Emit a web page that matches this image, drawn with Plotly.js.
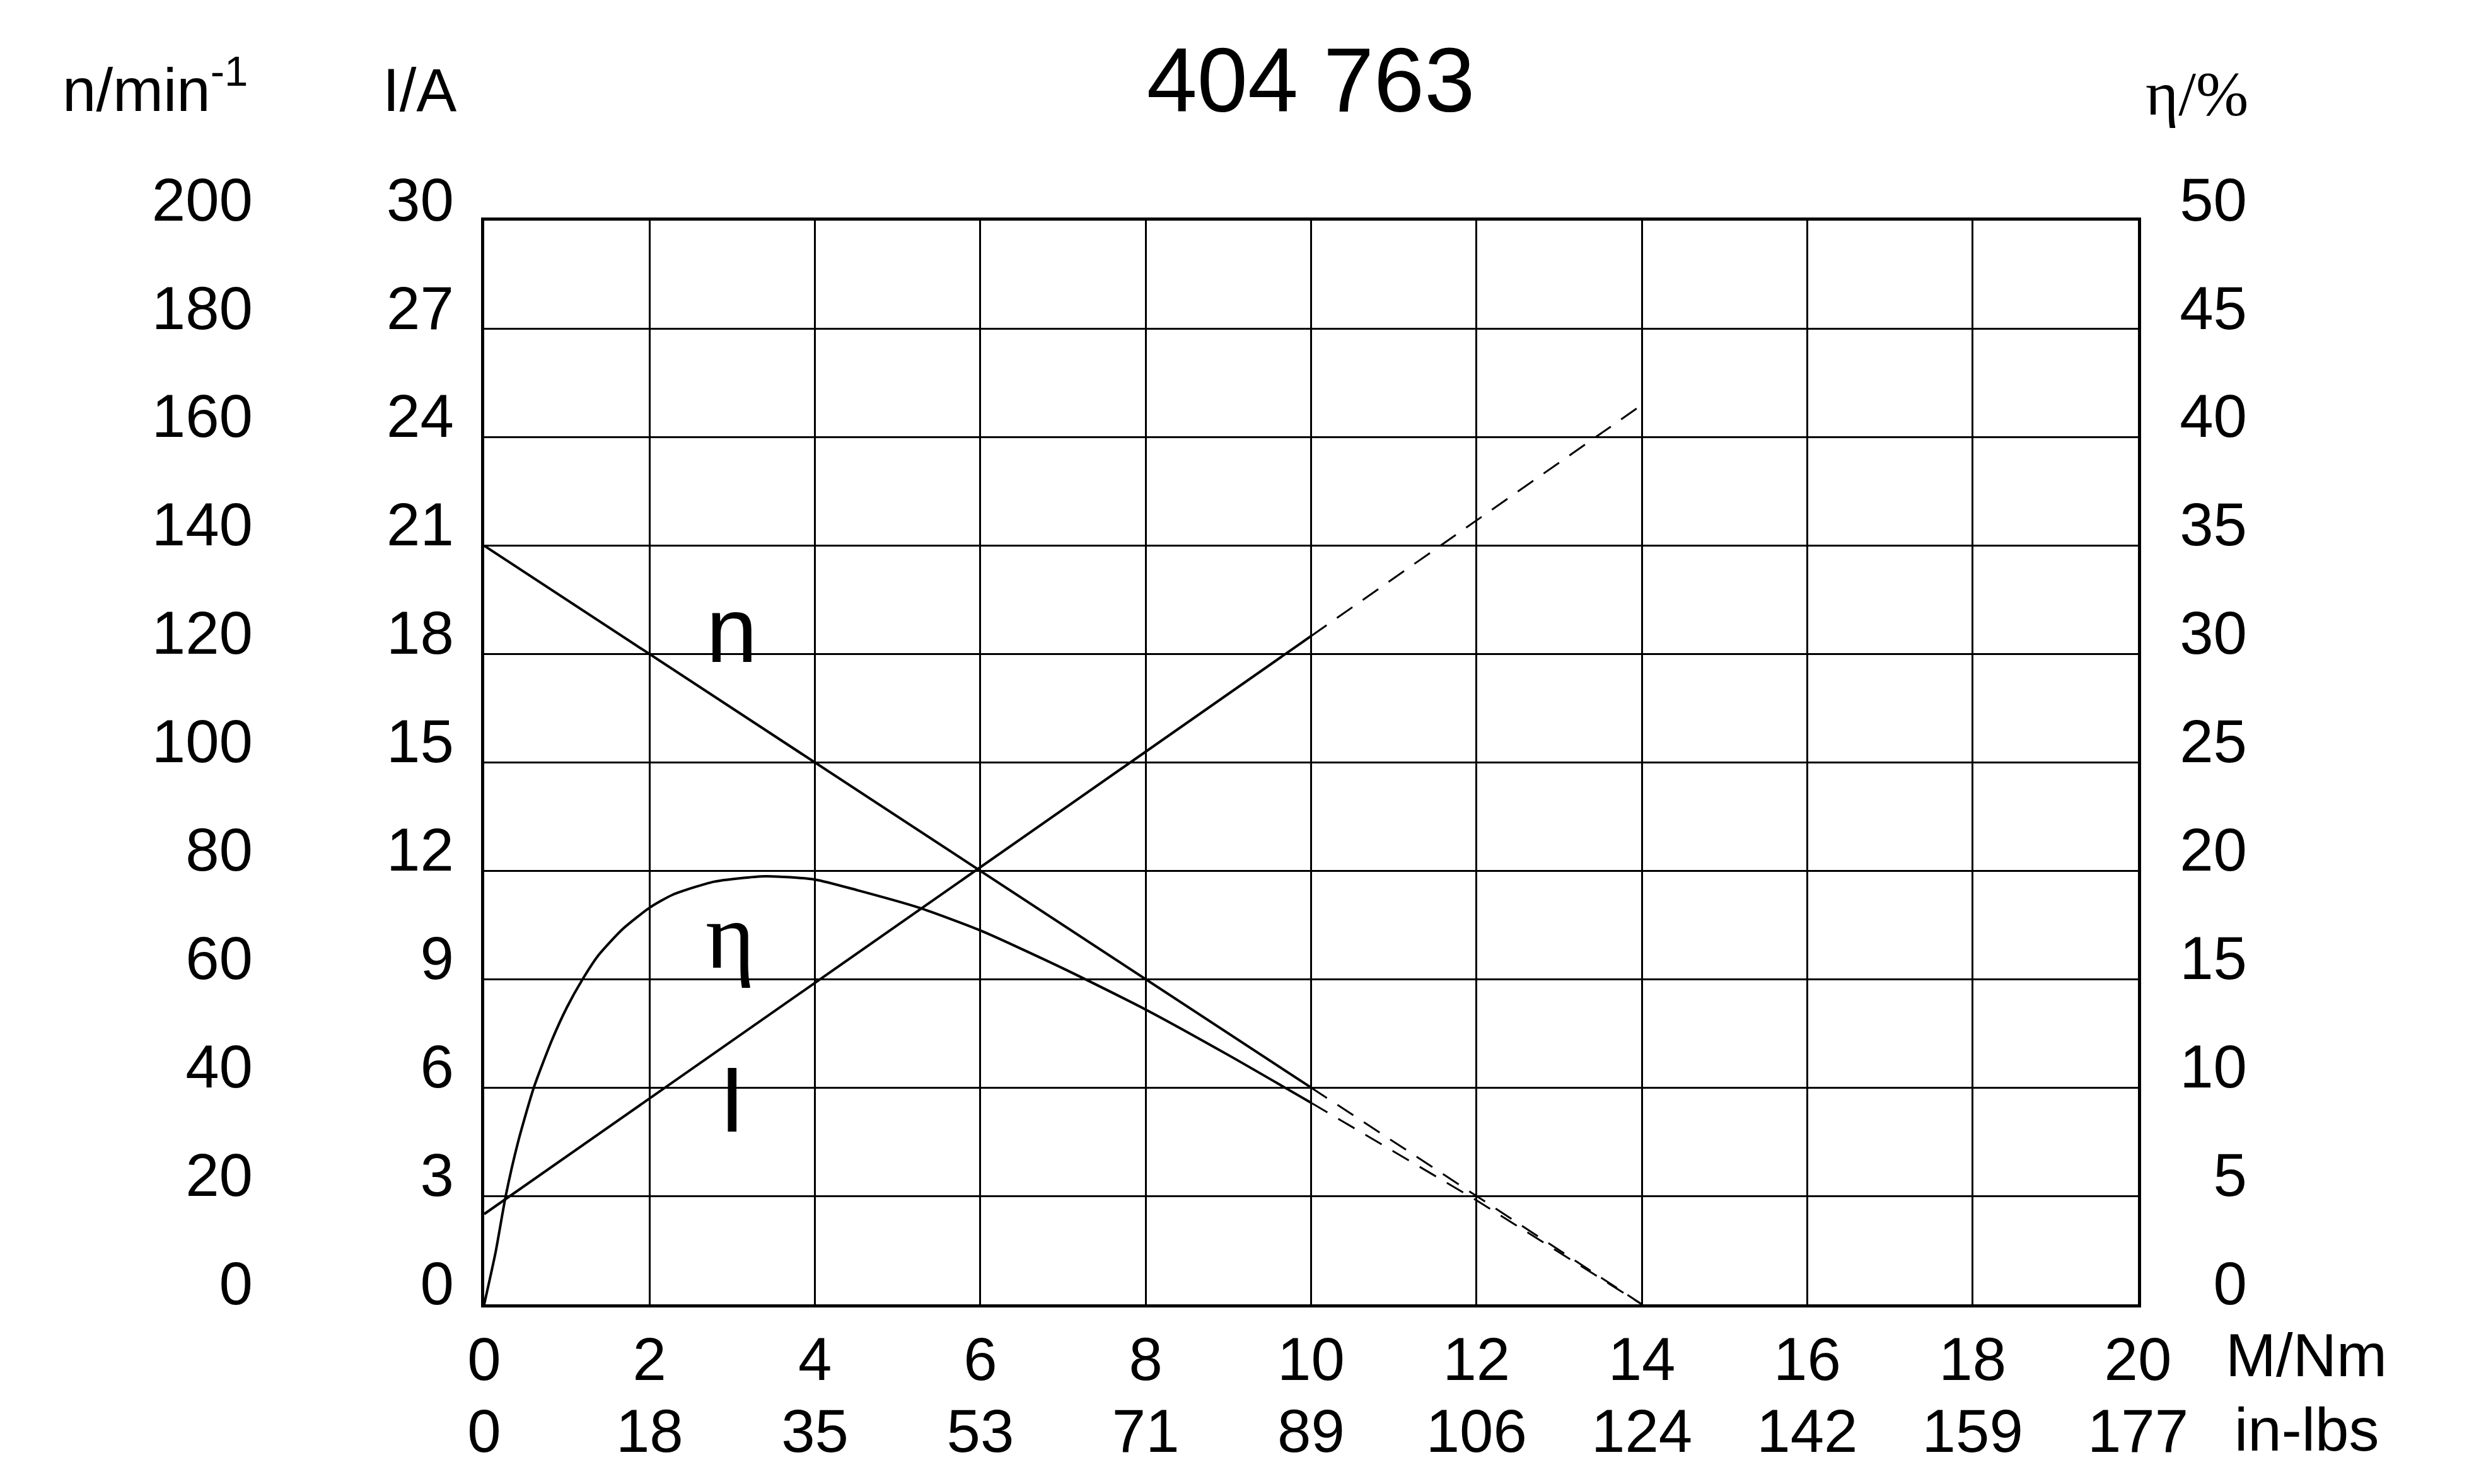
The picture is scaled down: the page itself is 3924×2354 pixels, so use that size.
<!DOCTYPE html>
<html>
<head>
<meta charset="utf-8">
<script src="https://cdn.plot.ly/plotly-3.0.1.min.js"></script>
<style>html,body{margin:0;padding:0;background:#fff;}#chart{width:3924px;height:2354px;}</style>
</head>
<body>
<div id="chart"></div>
<script>
// ---- data ----
const torqueTicks = [0, 2, 4, 6, 8, 10, 12, 14, 16, 18, 20];          // M / Nm
const inLbsLabels = ['0', '18', '35', '53', '71', '89', '106', '124', '142', '159', '177'];

const nSolidM = [0, 10];
const nSolidV = [140, 40];          // n / min^-1
const nDashM = [10, 14];
const nDashV = [40, 0];

const iSolidM = [0, 10];
const iSolidV = [2.5, 18.5];        // I / A
const iDashM = [10, 14];
const iDashV = [18.5, 24.9];

const etaSolidM = [0, 0.14, 0.26, 0.41, 0.6, 0.82, 1.0, 1.19, 1.38, 1.67, 2.0, 2.28, 2.78, 3.4, 4.0, 4.52, 5.26, 6.0, 7.0, 8.0, 9.0, 10.0];
const etaSolidV = [0, 2.45, 5.0, 7.5, 10.0, 12.2, 13.7, 15.0, 16.1, 17.3, 18.3, 18.9, 19.5, 19.75, 19.6, 19.1, 18.3, 17.25, 15.5, 13.6, 11.5, 9.3];  // eta / %
const etaDashM = [10, 12, 14];
const etaDashV = [9.3, 4.8, 0];

// ---- layout geometry ----
const W = 3924, H = 2354;
const ML = 200, MR = 100, MT = 350, MB = 285;
const PW = W - ML - MR, PH = H - MT - MB;
const pxX = p => (p - ML) / PW;
const pxY = p => (H - MB - p) / PH;

const SANS = 'Liberation Sans, Arial, sans-serif';
const SERIF = 'Liberation Serif, Times New Roman, serif';
const tickFont = {family: SANS, size: 96, color: '#000'};

const solid = {color: '#000', width: 4};
const dashed = {color: '#000', width: 3, dash: '30px,20px'};

const traces = [
  {x: nSolidM, y: nSolidV, yaxis: 'y2', mode: 'lines', line: solid},
  {x: nDashM, y: nDashV, yaxis: 'y2', mode: 'lines', line: dashed},
  {x: iSolidM, y: iSolidV, yaxis: 'y', mode: 'lines', line: solid},
  {x: iDashM, y: iDashV, xaxis: 'x2', yaxis: 'y', mode: 'lines', line: dashed},
  {x: etaSolidM, y: etaSolidV, yaxis: 'y3', mode: 'lines', line: Object.assign({shape: 'spline', smoothing: 0.6}, solid)},
  {x: etaDashM, y: etaDashV, yaxis: 'y3', mode: 'lines', line: dashed}
].map(t => Object.assign(t, {showlegend: false, hoverinfo: 'skip'}));

const layout = {
  width: W, height: H,
  margin: {l: ML, r: MR, t: MT, b: MB, pad: 0},
  paper_bgcolor: '#fff', plot_bgcolor: '#fff',
  showlegend: false,
  title: {
    text: '404 763',
    font: {family: SANS, size: 144, color: '#000'},
    x: 2079 / W, xref: 'container', xanchor: 'center',
    y: 1 - 127 / H, yref: 'container', yanchor: 'middle'
  },
  xaxis: {
    domain: [pxX(768), pxX(3391)],
    range: [0, 20],
    tickmode: 'array', tickvals: torqueTicks, ticktext: torqueTicks.map(String),
    ticks: '', ticklabelstandoff: 0,
    showgrid: true, gridcolor: '#000', gridwidth: 3,
    zeroline: false,
    showline: true, linecolor: '#000', linewidth: 5, mirror: true,
    tickfont: tickFont, fixedrange: true
  },
  xaxis2: {
    overlaying: 'x', anchor: 'y', side: 'bottom', matches: 'x',
    range: [0, 20],
    tickmode: 'array', tickvals: torqueTicks, ticktext: inLbsLabels,
    ticks: '', ticklabelstandoff: 137,
    showgrid: false, zeroline: false, showline: false,
    tickfont: tickFont, fixedrange: true
  },
  yaxis: {
    domain: [0, 1],
    range: [0, 30],
    tickmode: 'linear', tick0: 0, dtick: 3,
    ticks: '', ticklabelstandoff: 24, ticklabelshift: -34,
    showgrid: true, gridcolor: '#000', gridwidth: 3,
    zeroline: false,
    showline: true, linecolor: '#000', linewidth: 5, mirror: true,
    tickfont: tickFont, fixedrange: true
  },
  yaxis2: {
    overlaying: 'y', anchor: 'free', side: 'left', position: pxX(409),
    range: [0, 200],
    tickmode: 'linear', tick0: 0, dtick: 20,
    ticks: '', ticklabelstandoff: 8, ticklabelshift: -34,
    showgrid: false, zeroline: false, showline: false,
    tickfont: tickFont, fixedrange: true
  },
  yaxis3: {
    overlaying: 'y', anchor: 'free', side: 'left', position: pxX(3572),
    range: [0, 50],
    tickmode: 'linear', tick0: 0, dtick: 5,
    ticks: '', ticklabelstandoff: 8, ticklabelshift: -34,
    showgrid: false, zeroline: false, showline: false,
    tickfont: tickFont, fixedrange: true
  },
  annotations: [
    {text: 'n/min<sup>-1</sup>', xref: 'paper', yref: 'paper', x: pxX(396), y: pxY(198), xanchor: 'right', yanchor: 'bottom', showarrow: false, font: {family: SANS, size: 96, color: '#000'}},
    {text: 'I/A', xref: 'paper', yref: 'paper', x: pxX(726), y: pxY(198), xanchor: 'right', yanchor: 'bottom', showarrow: false, font: {family: SANS, size: 96, color: '#000'}},
    {text: 'η/%', xref: 'paper', yref: 'paper', x: pxX(3568), y: pxY(206), xanchor: 'right', yanchor: 'bottom', showarrow: false, font: {family: SERIF, size: 100, color: '#000'}},
    {text: 'M/Nm', xref: 'paper', yref: 'paper', x: pxX(3528), y: pxY(2205), xanchor: 'left', yanchor: 'bottom', showarrow: false, font: {family: SANS, size: 96, color: '#000'}},
    {text: 'in-lbs', xref: 'paper', yref: 'paper', x: pxX(3542), y: pxY(2323), xanchor: 'left', yanchor: 'bottom', showarrow: false, font: {family: SANS, size: 96, color: '#000'}},
    {text: 'n', xref: 'x', yref: 'y', x: 2.99, y: 17.21, xanchor: 'center', yanchor: 'bottom', showarrow: false, font: {family: SANS, size: 146, color: '#000'}},
    {text: 'η', xref: 'x', yref: 'y', x: 2.97, y: 8.73, xanchor: 'center', yanchor: 'bottom', showarrow: false, font: {family: SERIF, size: 150, color: '#000'}},
    {text: 'I', xref: 'x', yref: 'y', x: 3.0, y: 4.21, xanchor: 'center', yanchor: 'bottom', showarrow: false, font: {family: SANS, size: 146, color: '#000'}}
  ]
};

Plotly.newPlot('chart', traces, layout, {displayModeBar: false, staticPlot: true});
</script>
</body>
</html>
